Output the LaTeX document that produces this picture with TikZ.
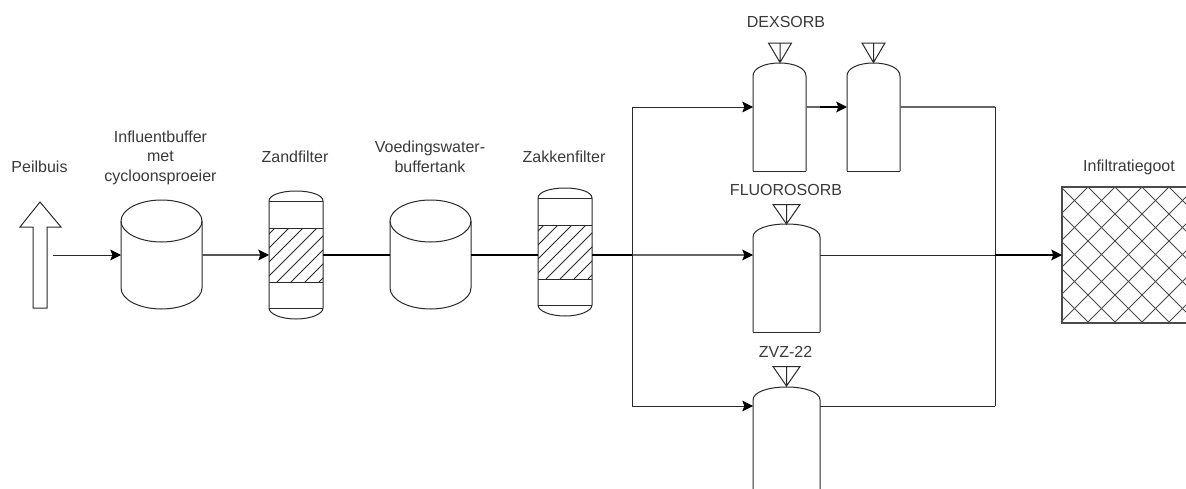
\documentclass[tikz,border=0pt]{standalone}
\usepackage{fontspec}
\setmainfont{Liberation Sans}
\usetikzlibrary{arrows.meta,fit}
\definecolor{lbl}{HTML}{3A3A3A}
\definecolor{ln}{HTML}{2A2A2A}
\definecolor{lngrey}{HTML}{666666}
\tikzset{
  hull/.style={draw=ln,line width=0.75pt,fill=white},
  hatchline/.style={draw=ln,line width=0.55pt},
  anchorbox/.style={inner sep=0pt,outer sep=0pt},
  lab/.style={text=lbl,font=\fontsize{12}{14.6}\selectfont,align=center,inner sep=0pt},
  thinpipe/.style={draw=ln,line width=0.75pt},
  greypipe/.style={draw=lngrey,line width=1pt},
  thickpipe/.style={draw=black,line width=1.35pt},
  tip/.style={-{Stealth[length=8pt,width=8pt,inset=1.5pt,color=black]}}
}
% tank: name, left, right
\newcommand{\tankshape}[3]{%
  \pgfmathsetmacro{\xm}{(#2+#3)/2}%
  \pgfmathsetmacro{\kx}{0.55*(#3-#2)/2}%
  \draw[hull] (#2,221) .. controls (#2,209.5) and (\xm-\kx,200) .. (\xm,200)
     .. controls (\xm+\kx,200) and (#3,209.5) .. (#3,221)
     -- (#3,288) .. controls (#3,299.5) and (\xm+\kx,309) .. (\xm,309)
     .. controls (\xm-\kx,309) and (#2,299.5) .. (#2,288) -- cycle;
  \draw[hull,fill=none] (#2,221) .. controls (#2,232.5) and (\xm-\kx,242) .. (\xm,242)
     .. controls (\xm+\kx,242) and (#3,232.5) .. (#3,221);
  \node[anchorbox,fit={(#2,200)(#3,310)}] (#1) {};
}
% filter: name, left, right, top of dome
\newcommand{\filtershape}[4]{%
  \pgfmathsetmacro{\xm}{(#2+#3)/2}%
  \pgfmathsetmacro{\kx}{0.55*(#3-#2)/2}%
  \draw[hull] (#2,#4+10) .. controls (#2,#4+4) and (\xm-\kx,#4) .. (\xm,#4)
     .. controls (\xm+\kx,#4) and (#3,#4+4) .. (#3,#4+10)
     -- (#3,#4+117) .. controls (#3,#4+123) and (\xm+\kx,#4+128) .. (\xm,#4+128)
     .. controls (\xm-\kx,#4+128) and (#2,#4+123) .. (#2,#4+117) -- cycle;
  \begin{scope}
    \clip (#2,#4+37) rectangle (#3,#4+91);
    \foreach \d in {-56,-42,...,56}{
      \draw[hatchline] (#2+\d-6,#4+91) -- (#2+\d+54,#4+31);
    }
  \end{scope}
  \draw[hull,fill=none] (#2,#4+10) -- (#3,#4+10);
  \draw[hull,fill=none] (#2,#4+37) -- (#3,#4+37);
  \draw[hull,fill=none] (#2,#4+91) -- (#3,#4+91);
  \draw[hull,fill=none] (#2,#4+117) -- (#3,#4+117);
  \node[anchorbox,fit={(#2,#4)(#3,#4+128)}] (#1) {};
}
% vessel: name, left, right, top, bottom
\newcommand{\vesselshape}[5]{%
  \pgfmathsetmacro{\xm}{(#2+#3)/2}%
  \pgfmathsetmacro{\kx}{0.55*(#3-#2)/2}%
  \draw[hull] (#2,#5) -- (#2,#4+13) .. controls (#2,#4+5) and (\xm-\kx,#4) .. (\xm,#4)
     .. controls (\xm+\kx,#4) and (#3,#4+5) .. (#3,#4+13) -- (#3,#5);
  \node[anchorbox,fit={(#2,#4)(#3,#5)}] (#1) {};
}
% vent: name, centre x, half width, top, bottom
\newcommand{\ventshape}[5]{%
  \draw[hull,fill=none,line join=miter] (#2-#3,#4) -- (#2+#3,#4) -- (#2,#5) -- cycle (#2,#4) -- (#2,#5);
  \node[anchorbox,fit={(#2-#3,#4)(#2+#3,#5)}] (#1) {};
}
\begin{document}
\begin{tikzpicture}[x=0.75pt,y=-0.75pt]
\useasboundingbox (0,0) rectangle (1186,489);
\fill[white] (0,0) rectangle (1186,489);

% labels
\node[lab] (lpeil) at (39.5,167) {Peilbuis};
\node[lab] (ltank) at (160.5,157.5) {Influentbuffer\\met\\cycloonsproeier};
\node[lab] (lzand) at (295,157) {Zandfilter};
\node[lab] (lvoed) at (430,157) {Voedingswater-\\buffertank};
\node[lab] (lzak) at (564,157) {Zakkenfilter};
\node[lab] (ldex) at (786,22) {DEXSORB};
\node[lab] (lflu) at (786,190) {FLUOROSORB};
\node[lab] (lzvz) at (785.5,352) {ZVZ-22};
\node[lab] (linf) at (1129,167) {Infiltratiegoot};

% peilbuis arrow
\draw[hull,line join=miter] (40,202) -- (61,227) -- (47,227) -- (47,308) -- (33,308) -- (33,227) -- (20,227) -- cycle;
\node[anchorbox,fit={(20,202)(61,308)}] (peil) {};
\coordinate (peilout) at (53,255);

% process shapes
\tankshape{tank}{121}{202}
\filtershape{zand}{269}{323}{191}
\tankshape{voed}{390}{471}
\filtershape{zak}{538}{592}{188}
\vesselshape{dexa}{753}{806}{63}{171}
\draw[hull,fill=none] (753,171) -- (806,171);
\vesselshape{dexb}{847}{900}{63}{171}
\draw[hull,fill=none] (847,171) -- (900,171);
\vesselshape{flu}{753}{820}{224}{332}
\draw[hull,fill=none] (753,332) -- (820,332);
\vesselshape{zvz}{753}{820}{387}{489}
\ventshape{va}{780}{11.5}{43}{62.5}
\ventshape{vb}{873.5}{11.5}{43}{62.5}
\ventshape{vc}{786.5}{13.5}{204.5}{224}
\ventshape{vd}{786.5}{13.5}{366.5}{386}

% infiltratiegoot
\begin{scope}
  \clip (1062,187) rectangle (1186,323);
  \foreach \d in {-135,-108,...,135}{
    \draw[draw=ln!85,line width=0.75pt] (1088+\d-10,177) -- (1088+\d+150,337);
    \draw[draw=ln!85,line width=0.75pt] (1088+\d+10,177) -- (1088+\d-150,337);
  }
  \foreach \d in {162,189,216}{
    \draw[draw=ln!85,line width=0.75pt] (1088+\d+10,177) -- (1088+\d-150,337);
  }
\end{scope}
\draw[draw=ln!85,line width=0.9pt] (1186,187) -- (1062,187) -- (1062,323) -- (1186,323);
\node[anchorbox,fit={(1062,187)(1186,323)}] (inf) {};

% junctions
\coordinate (split) at (632,255);
\coordinate (merge) at (995,255);
\coordinate (splitT) at (632,107);
\coordinate (splitB) at (632,406);
\coordinate (mergeT) at (995,107);
\coordinate (mergeB) at (995,406);
\coordinate (dexm) at (820,107);

% connectors
\draw[thinpipe,tip] (peilout) -- (peilout -| tank.west);
\draw[thinpipe,draw=ln!80,line width=1pt,tip] (tank.east |- peilout) -- (peilout -| zand.west);
\draw[thickpipe] (zand.east |- peilout) -- (peilout -| voed.west);
\draw[thickpipe] (voed.east |- peilout) -- (peilout -| zak.west);
\draw[thickpipe] (zak.east |- peilout) -- (split);
\draw[greypipe,tip] (split) -- (split -| flu.west);
\draw[thinpipe,tip] (splitT) -- (splitT -| dexa.west);
\draw[thinpipe,tip] (splitB) -- (splitB -| zvz.west);
\draw[thinpipe] (splitT) -- (splitB);
\draw[greypipe] (splitT -| dexa.east) -- (dexm);
\draw[thickpipe,tip] (dexm) -- (splitT -| dexb.west);
\draw[greypipe] (splitT -| dexb.east) -- (mergeT);
\draw[thinpipe] (mergeT) -- (mergeB);
\draw[thinpipe] (split -| flu.east) -- (merge);
\draw[thickpipe,tip] (merge) -- (split -| inf.west);
\draw[thinpipe] (splitB -| zvz.east) -- (mergeB);
\end{tikzpicture}
\end{document}
